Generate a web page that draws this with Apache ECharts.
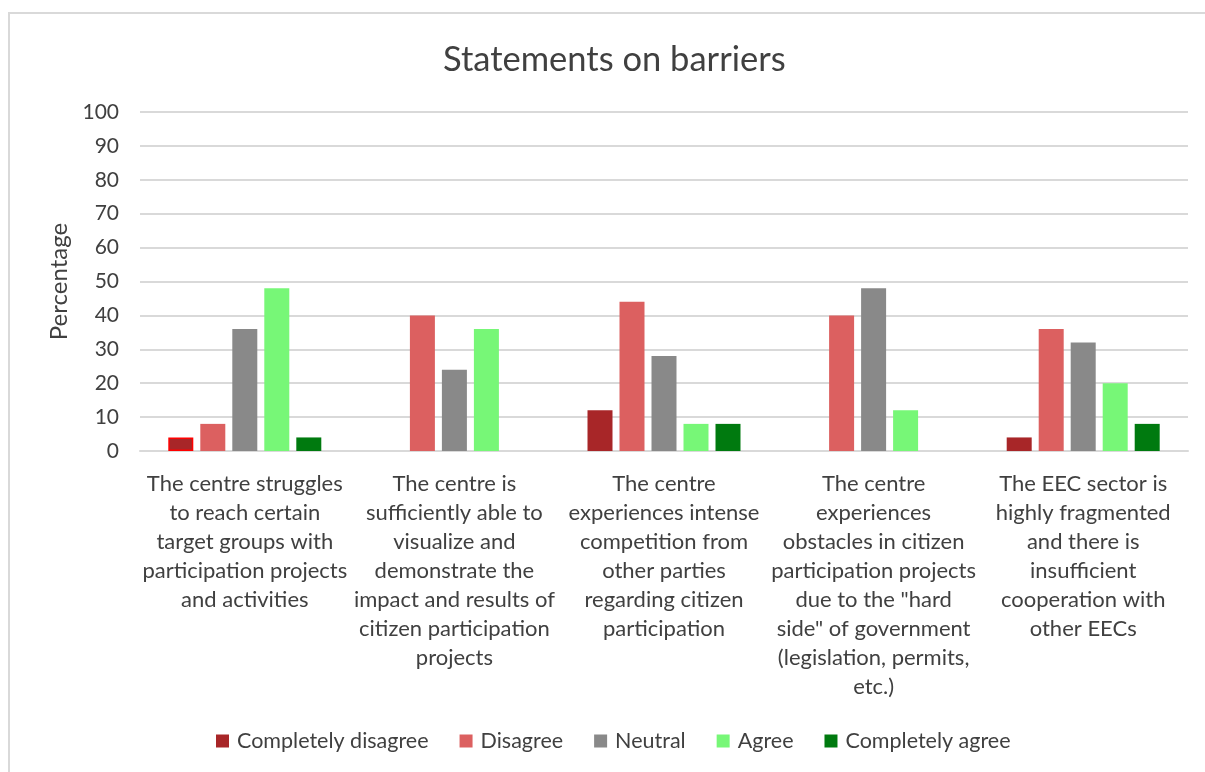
<!DOCTYPE html>
<html>
<head>
<meta charset="utf-8">
<script src="https://cdn.jsdelivr.net/npm/echarts@6/dist/echarts.min.js"></script>
<style>
  html, body { margin: 0; padding: 0; background: #fff; }
  #frame { position: absolute; left: 8px; top: 12px; width: 1210px; height: 780px; border: 2px solid #d9d9d9; box-sizing: border-box; }
  #chart { position: absolute; left: 0; top: 0; width: 1205px; height: 772px; }
</style>
</head>
<body>
<div id="frame"></div>
<div id="chart"></div>
<script>
const categories = [
  'The centre struggles\nto reach certain\ntarget groups with\nparticipation projects\nand activities',
  'The centre is\nsufficiently able to\nvisualize and\ndemonstrate the\nimpact and results of\ncitizen participation\nprojects',
  'The centre\nexperiences intense\ncompetition from\nother parties\nregarding citizen\nparticipation',
  'The centre\nexperiences\nobstacles in citizen\nparticipation projects\ndue to the "hard\nside" of government\n(legislation, permits,\netc.)',
  'The EEC sector is\nhighly fragmented\nand there is\ninsufficient\ncooperation with\nother EECs'
];
const seriesNames = ['Completely disagree', 'Disagree', 'Neutral', 'Agree', 'Completely agree'];
const completelyDisagree = [4, 0, 12, 0, 4];
const disagree = [8, 40, 44, 40, 36];
const neutral = [36, 24, 28, 48, 32];
const agree = [48, 36, 8, 12, 20];
const completelyAgree = [4, 0, 8, 0, 8];
const colors = ['#a82628', '#dc6060', '#898989', '#77f777', '#007a0f'];

const FONT = 'Lato, "Open Sans", sans-serif';
const seriesData = [completelyDisagree, disagree, neutral, agree, completelyAgree];

const chart = echarts.init(document.getElementById('chart'));
chart.setOption({
  animation: false,
  textStyle: { fontFamily: FONT },
  title: {
    text: 'Statements on barriers',
    left: 438,
    top: 37,
    textStyle: { fontFamily: FONT, fontSize: 34.5, fontWeight: 'normal', color: '#404040' }
  },
  legend: {
    bottom: 15,
    left: 211,
    itemWidth: 13,
    itemHeight: 13,
    itemGap: 31,
    icon: 'rect',
    textStyle: { fontFamily: FONT, fontSize: 21.5, color: '#404040', padding: [0, 0, 0, 3] },
    data: seriesNames
  },
  grid: { left: 140, right: 17, top: 112, bottom: 321, containLabel: false },
  xAxis: {
    type: 'category',
    data: categories,
    axisLine: { lineStyle: { color: '#d9d9d9', width: 2 } },
    axisTick: { show: false },
    axisLabel: {
      interval: 0,
      margin: 18,
      fontFamily: FONT,
      fontSize: 22,
      lineHeight: 29,
      color: '#404040',
      align: 'center'
    }
  },
  yAxis: {
    type: 'value',
    min: 0,
    max: 100,
    interval: 10,
    name: 'Percentage',
    nameLocation: 'middle',
    nameGap: 64,
    nameTextStyle: { fontFamily: FONT, fontSize: 24, color: '#404040' },
    axisLine: { show: false },
    axisTick: { show: false },
    axisLabel: { fontFamily: FONT, fontSize: 21, color: '#404040', margin: 21 },
    splitLine: { lineStyle: { color: '#d9d9d9', width: 2 } }
  },
  series: seriesNames.map((name, i) => ({
    name: name,
    type: 'bar',
    barWidth: 25,
    barGap: '28%',
    itemStyle: { color: colors[i] },
    data: seriesData[i].map((v, j) =>
      (i === 0 && j === 0)
        ? { value: v, itemStyle: { color: colors[i], borderColor: '#ff0000', borderWidth: 1.5 } }
        : v)
  }))
});
</script>
</body>
</html>
